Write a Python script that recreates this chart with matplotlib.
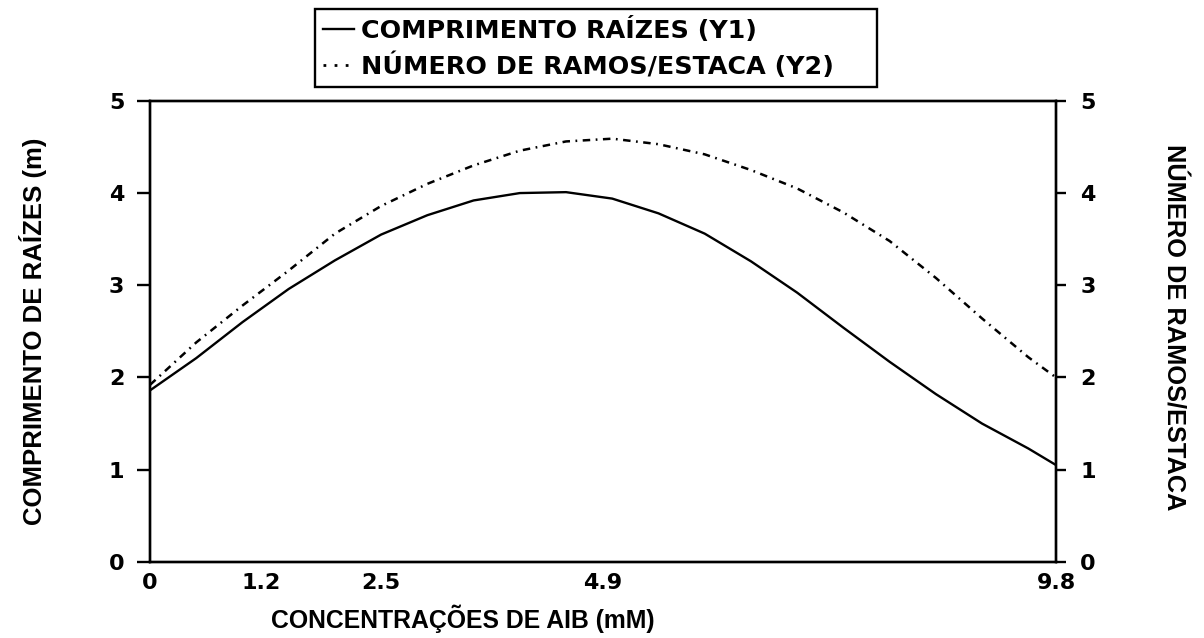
import matplotlib
matplotlib.use("Agg")
import matplotlib.pyplot as plt
from matplotlib.lines import Line2D

plt.rcParams["font.family"] = ["DejaVu Sans"]

CONC = [0.0, 0.5, 1.0, 1.5, 2.0, 2.5, 3.0, 3.5, 4.0, 4.5, 5.0,
        5.5, 6.0, 6.5, 7.0, 7.5, 8.0, 8.5, 9.0, 9.5, 9.8]

# root length (m), left axis
ROOT_LENGTH = [1.86, 2.21, 2.60, 2.96, 3.27, 3.55, 3.76, 3.92, 4.00, 4.01, 3.94,
               3.78, 3.56, 3.26, 2.92, 2.54, 2.17, 1.82, 1.50, 1.23, 1.05]

# branches per cutting, right axis
BRANCHES = [1.92, 2.38, 2.78, 3.16, 3.56, 3.86, 4.10, 4.30, 4.46, 4.56, 4.59,
            4.53, 4.42, 4.25, 4.05, 3.79, 3.48, 3.08, 2.64, 2.22, 2.00]

X_TICKS = [0, 1.2, 2.5, 4.9, 9.8]
X_TICK_LABELS = ["0", "1.2", "2.5", "4.9", "9.8"]
Y_TICKS = [0, 1, 2, 3, 4, 5]

INK = "black"
LABEL_FONT = ["Liberation Sans", "DejaVu Sans"]
DASHDOT = (0, (3, 2.2, 0.7, 2.2))

fig = plt.figure(figsize=(12.04, 6.38), dpi=100)
ax = fig.add_axes([0.1246, 0.1193, 0.7525, 0.7226])
ax2 = ax.twinx()

ax.plot(CONC, ROOT_LENGTH, color=INK, linewidth=1.7)
ax2.plot(CONC, BRANCHES, color=INK, linewidth=1.8, linestyle=DASHDOT)

for a in (ax, ax2):
    a.set_xlim(0, 9.8)
    a.set_ylim(0, 5)
    a.set_yticks(Y_TICKS)
    for side in a.spines.values():
        side.set_linewidth(1.7)
        side.set_color(INK)

ax.set_xticks(X_TICKS, X_TICK_LABELS)
ax.tick_params(axis="x", length=0, pad=8, labelsize=16)
ax.tick_params(axis="y", direction="out", length=9.5, width=1.7, pad=9, labelsize=16)
ax2.tick_params(axis="y", direction="out", length=7.5, width=1.7, pad=10, labelsize=16)
for lbl in ax.get_xticklabels() + ax.get_yticklabels() + ax2.get_yticklabels():
    lbl.set_fontweight("bold")

ax.set_xlabel("CONCENTRAÇÕES DE AIB (mM)", fontsize=17.8, fontweight="bold",
              family=LABEL_FONT)
ax.xaxis.set_label_coords((463 - 150) / 906, -0.092)
ax.set_ylabel("COMPRIMENTO DE RAÍZES (m)", fontsize=18.5, fontweight="bold",
              family=LABEL_FONT)
ax.yaxis.set_label_coords(-0.114, 0.5)
ax2.set_ylabel("NÚMERO DE RAMOS/ESTACA", fontsize=18.3, fontweight="bold",
               family=LABEL_FONT, rotation=270, va="bottom")
ax2.yaxis.set_label_coords(1.116, 0.51)

handles = [
    Line2D([], [], color=INK, linewidth=1.7),
    Line2D([], [], color=INK, linewidth=2.0, linestyle=(0, (1, 3))),
]
leg = fig.legend(
    handles,
    ["COMPRIMENTO RAÍZES (Y1)", "NÚMERO DE RAMOS/ESTACA (Y2)"],
    loc="upper left",
    bbox_to_anchor=(315 / 1204, 1 - 87 / 638, (877 - 315) / 1204, (87 - 9) / 638),
    mode="expand",
    prop={"family": "DejaVu Sans", "weight": "bold", "size": 18.3},
    frameon=True,
    fancybox=False,
    edgecolor=INK,
    handlelength=1.2,
    handletextpad=0.3,
    borderpad=0.32,
    labelspacing=0.38,
    borderaxespad=0,
)
leg.get_frame().set_linewidth(1.7)
leg.get_frame().set_alpha(1)

fig.savefig("out.png", dpi=100, facecolor="white")
